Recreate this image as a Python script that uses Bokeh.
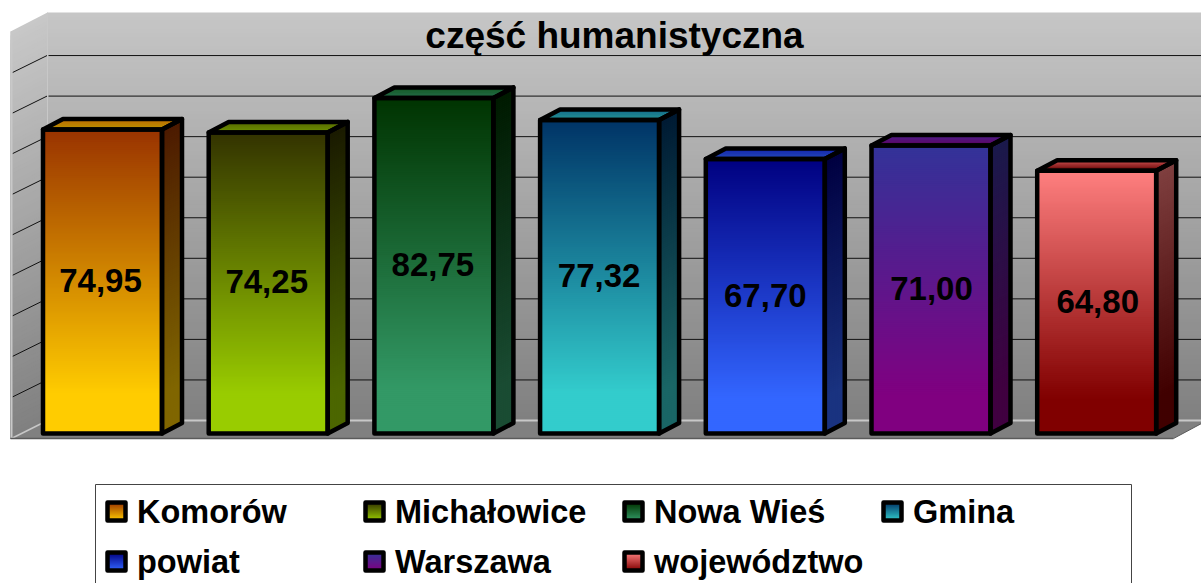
from bokeh.plotting import figure
from bokeh.models import Range1d
from bokeh.embed import file_html
from bokeh.resources import INLINE
from bokeh.core.properties import value

title = "część humanistyczna"
categories = ["Komorów", "Michałowice", "Nowa Wieś", "Gmina", "powiat", "Warszawa", "województwo"]
values = [74.95, 74.25, 82.75, 77.32, 67.70, 71.00, 64.80]
grid_values = [10, 20, 30, 40, 50, 60, 70, 80, 90]
colors_top = ["#993300", "#333300", "#003300", "#003366", "#000080", "#333399", "#FF8080"]
colors_bottom = ["#FFCC00", "#99CC00", "#339966", "#33CCCC", "#3366FF", "#800080", "#800000"]

W, H = 1201, 583
PX_PER_X = 165.7      # pixels per category
X0 = 102.0            # pixel centre of first category
PX_PER_V = 4.055      # pixels per value unit
Y0 = 433.0            # pixel of value 0 in front plane
BAR_W = 119.0 / PX_PER_X
DX = 20.0 / PX_PER_X  # bar depth
DV = 10.5 / PX_PER_V


def xd(px):
    return (px - X0) / PX_PER_X


def yd(py):
    return (Y0 - py) / PX_PER_V


p = figure(width=W, height=H, output_backend="svg", toolbar_location=None,
           x_range=Range1d(xd(0), xd(W)), y_range=Range1d(yd(H), yd(0)),
           min_border=0, outline_line_color=None, background_fill_color="white",
           border_fill_color="white")
p.xaxis.visible = False
p.yaxis.visible = False
p.grid.visible = False


def h2r(c):
    c = c.lstrip("#")
    return [int(c[i:i + 2], 16) for i in (0, 2, 4)]


def mix(a, b, t):
    return "#%02x%02x%02x" % tuple(round(x + (y - x) * t) for x, y in zip(a, b))


def scale(c, f):
    return "#%02x%02x%02x" % tuple(round(x * f) for x in h2r(c))


def grad(tl, tr, bl, br, ct, cb, n, end=1.0):
    """Vertical colour ramp painted as nested shapes, so that no seams show."""
    a, b = h2r(ct), h2r(cb)
    xs, ys, cs = [], [], []
    lerp = lambda u, v, t: (u[0] + (v[0] - u[0]) * t, u[1] + (v[1] - u[1]) * t)
    for i in range(n):
        t0 = i / n
        p1, p2, p3, p4 = lerp(tl, bl, t0), lerp(tr, br, t0), br, bl
        xs.append([p1[0], p2[0], p3[0], p4[0]])
        ys.append([p1[1], p2[1], p3[1], p4[1]])
        cs.append(mix(a, b, min(1.0, (i + .5) / n / end)))
    p.patches(xs, ys, fill_color=cs, line_color=None)


def P(x, y):
    return (xd(x), yd(y))


# back wall, side wall, floor
grad(P(47, 12), P(W, 12), P(47, 420), P(W, 420), "#c6c6c6", "#808080", 100)
grad(P(10, 31), P(47, 12), P(10, 438), P(47, 420), "#c8c8c8", "#808080", 100)
p.patch([xd(v) for v in (10, 47, W, W, 1173)], [yd(v) for v in (438, 420, 420, 423, 438)],
        fill_color="#808080", line_color=None)

for g in grid_values:
    py = Y0 - (g * PX_PER_V) - 13
    p.line([xd(48), xd(W)], [yd(py), yd(py)], line_color="#111111", line_width=1)
    p.line([xd(46.5), xd(12)], [yd(py), yd(py + 17)], line_color="#111111", line_width=1)

# light edges
p.line([xd(47), xd(W)], [yd(420), yd(420)], line_color="#c8c8c8", line_width=2)
p.line([xd(11), xd(47)], [yd(438), yd(420)], line_color="#c8c8c8", line_width=1.5)
p.line([xd(11), xd(11)], [yd(31), yd(438)], line_color="#c8c8c8", line_width=2)
p.line([xd(47), xd(47)], [yd(12), yd(420)], line_color="#c8c8c8", line_width=1)
p.line([xd(10), xd(1173)], [yd(438), yd(438)], line_color="#5a5a5a", line_width=1.5)
p.line([xd(1173), xd(W)], [yd(438), yd(423)], line_color="#5a5a5a", line_width=1)

# bars
for i, (v, ct, cb) in enumerate(zip(values, colors_top, colors_bottom)):
    l, r = i - BAR_W / 2, i + BAR_W / 2
    n = int(v * PX_PER_V / 2)
    grad((l, v), (r, v), (l, 0), (r, 0), ct, cb, n, end=0.87)
    grad((r, v), (r + DX, v + DV), (r, 0), (r + DX, DV), scale(ct, .5), scale(cb, .5), n, end=0.87)
    grad((l + DX, v + DV), (r + DX, v + DV), (l, v), (r, v), mix(h2r(ct), h2r(cb), .35), scale(cb, .72), 6)
    xs = [[l, r, r, l], [r, r + DX, r + DX, r], [l, l + DX, r + DX, r]]
    ys = [[v, v, 0, 0], [v, v + DV, DV, 0], [v, v + DV, v + DV, v]]
    p.patches(xs, ys, fill_color=None, line_color="black", line_width=4.5, line_join="round")
    p.text([xd(100 + i * 166.2)], [v / 2], y_offset=-1, text=[f"{v:.2f}".replace(".", ",")],
           text_align="center", text_baseline="middle",
           text_font=value("Liberation Sans"), text_font_style="bold", text_font_size="33px", text_color="black")

p.text([xd(614)], [yd(35)], text=[title], text_align="center", text_baseline="middle",
       text_font=value("Liberation Sans"), text_font_style="bold", text_font_size="37px", text_color="black")

# legend
p.line([xd(95), xd(95), xd(1131), xd(1131)], [yd(H + 2), yd(484), yd(484), yd(H + 2)], line_color="#444444", line_width=1)
col_x = [105, 363, 622, 881]
row_y = [500, 550]
for i, name in enumerate(categories):
    x, y = col_x[i % 4], row_y[i // 4]
    grad(P(x + 2, y + 2), P(x + 20, y + 2), P(x + 2, y + 20), P(x + 20, y + 20), colors_top[i], colors_bottom[i], 9)
    p.patch([xd(x + 2), xd(x + 20), xd(x + 20), xd(x + 2)], [yd(y + 2), yd(y + 2), yd(y + 20), yd(y + 20)],
            fill_color=None, line_color="black", line_width=4.5, line_join="round")
    p.text([xd(x + 31.5)], [yd(y + 11.5)], text=[name], text_align="left", text_baseline="middle",
           text_font=value("Liberation Sans"), text_font_style="bold", text_font_size="32.5px", text_color="black")

html = file_html(p, INLINE)
html = html.replace("<head>", "<head><style>html,body{margin:0;padding:0;overflow:hidden}</style>", 1)
open("out.html", "w").write(html)
